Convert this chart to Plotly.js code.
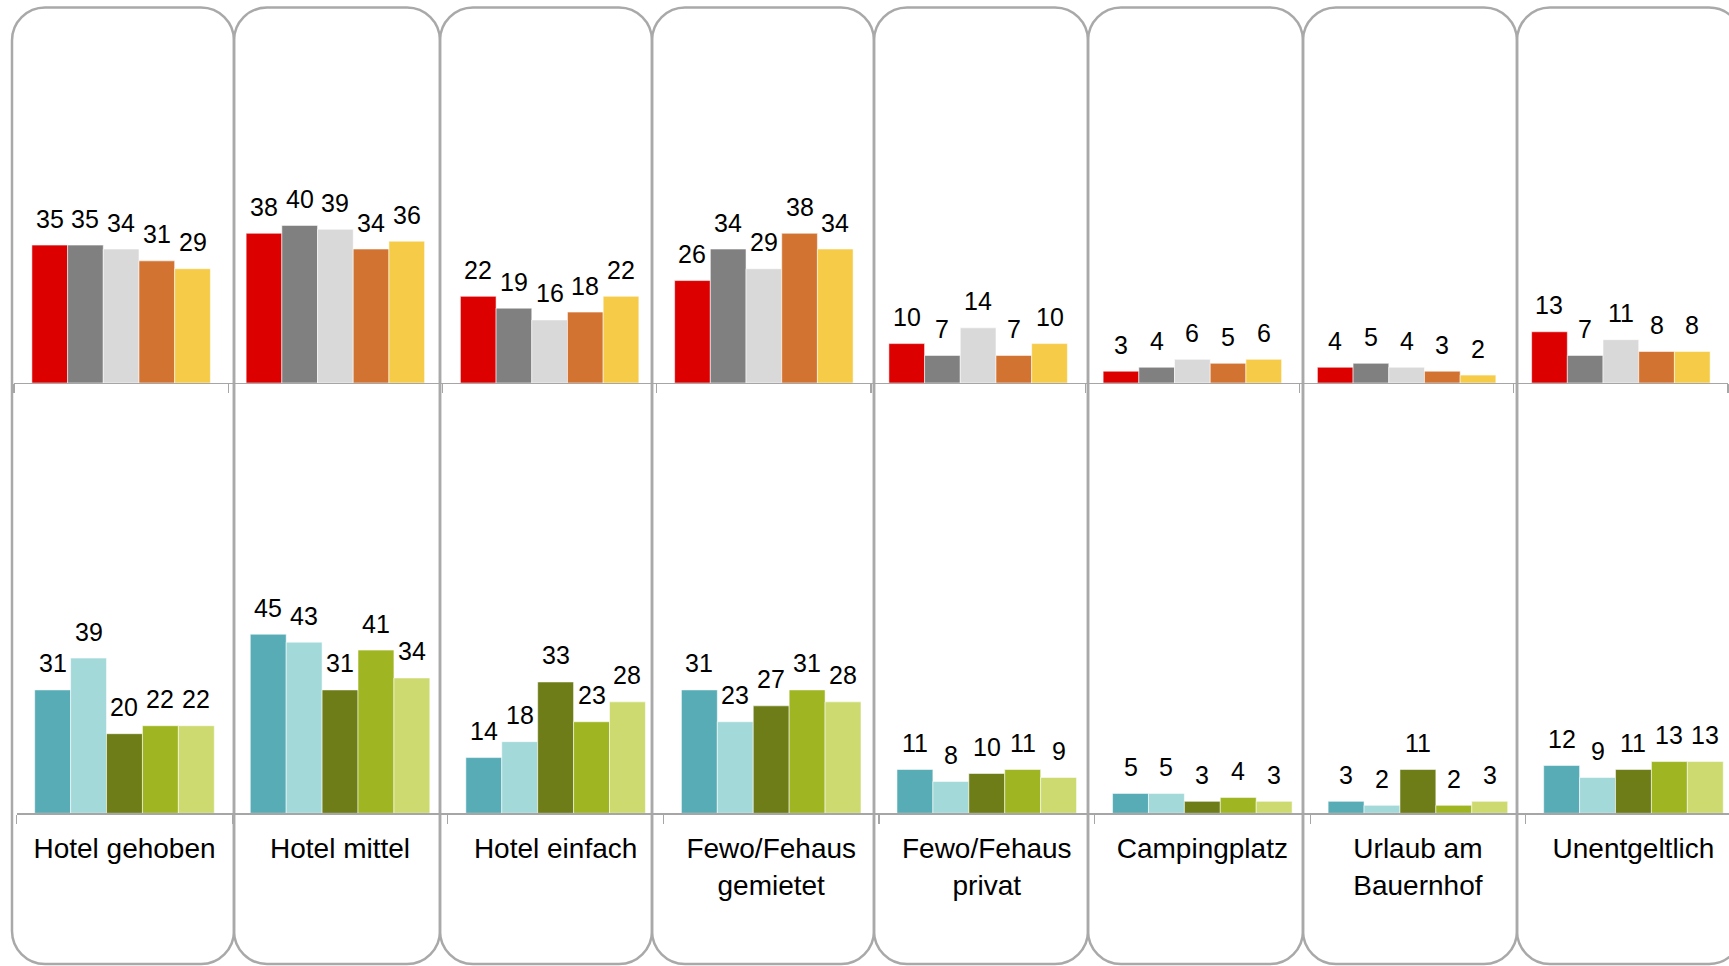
<!DOCTYPE html>
<html><head><meta charset="utf-8">
<script src="https://cdn.plot.ly/plotly-3.0.1.min.js"></script>
<style>html,body{margin:0;padding:0;background:#fff;overflow:hidden}</style>
</head><body><div id="chart" style="width:1729px;height:966px"></div>
<script>
// ---- data ----
const categories = ['Hotel gehoben','Hotel mittel','Hotel einfach','Fewo/Fehaus<br>gemietet','Fewo/Fehaus<br>privat','Campingplatz','Urlaub am<br>Bauernhof','Unentgeltlich'];

const topNames = ['Gruppe 1','Gruppe 2','Gruppe 3','Gruppe 4','Gruppe 5'];
const top1 = [35,38,22,26,10,3,4,13];
const top2 = [35,40,19,34,7,4,5,7];
const top3 = [34,39,16,29,14,6,4,11];
const top4 = [31,34,18,38,7,5,3,8];
const top5 = [29,36,22,34,10,6,2,8];
const topColors = ['#DC0000','#808080','#D9D9D9','#D37332','#F6CB47'];

const botNames = ['Gruppe 6','Gruppe 7','Gruppe 8','Gruppe 9','Gruppe 10'];
const bot1 = [31,45,14,31,11,5,3,12];
const bot2 = [39,43,18,23,8,5,2,9];
const bot3 = [20,31,33,27,10,3,11,11];
const bot4 = [22,41,23,31,11,4,2,13];
const bot5 = [22,34,28,28,9,3,3,13];
const botColors = ['#57ACB6','#A4D9DA','#6E7D18','#A0B522','#CDDA70'];

// ---- layout constants ----
const W = 1729, H = 966;
const FONT = 'Liberation Sans, Arial, sans-serif';
const GAP = 0.167;
const topSeries = [top1, top2, top3, top4, top5];
const botSeries = [bot1, bot2, bot3, bot4, bot5];

const traces = [];
topSeries.forEach((vals, i) => traces.push({
  type: 'bar', x: categories, y: vals, name: topNames[i], xaxis: 'x', yaxis: 'y',
  marker: {color: topColors[i], line: {width: 1, color: 'rgba(255,255,255,0.55)'}},
  hoverinfo: 'y'
}));
botSeries.forEach((vals, i) => traces.push({
  type: 'bar', x: categories, y: vals, name: botNames[i], xaxis: 'x2', yaxis: 'y2',
  marker: {color: botColors[i], line: {width: 1, color: 'rgba(255,255,255,0.55)'}},
  hoverinfo: 'y'
}));

// value labels above each bar
const annotations = [];
const w = (1 - GAP) / 5;
function addLabels(series, xr, yr) {
  series.forEach((vals, i) => vals.forEach((v, j) => annotations.push({
    x: j + (i - 2) * w, y: v, xref: xr, yref: yr, text: String(v),
    showarrow: false, xanchor: 'center', yanchor: 'bottom', yshift: 10.5,
    font: {family: FONT, size: 25, color: '#000'}
  })));
}
addLabels(topSeries, 'x', 'y');
addLabels(botSeries, 'x2', 'y2');

// rounded panels
const panelEdges = [12, 234, 440, 652, 874, 1088, 1303, 1517, 1742];
const pT = 7.5, pB = 964, r = 33, k = 0.5523;
const px = x => (x / W).toFixed(5);
const py = y => (1 - y / H).toFixed(5);
const shapes = [];
for (let p = 0; p < panelEdges.length - 1; p++) {
  const L = panelEdges[p], R = panelEdges[p + 1];
  const d = [
    `M${px(L)},${py(pT + r)}`,
    `C${px(L)},${py(pT + r - k * r)} ${px(L + r - k * r)},${py(pT)} ${px(L + r)},${py(pT)}`,
    `L${px(R - r)},${py(pT)}`,
    `C${px(R - r + k * r)},${py(pT)} ${px(R)},${py(pT + r - k * r)} ${px(R)},${py(pT + r)}`,
    `L${px(R)},${py(pB - r)}`,
    `C${px(R)},${py(pB - r + k * r)} ${px(R - r + k * r)},${py(pB)} ${px(R - r)},${py(pB)}`,
    `L${px(L + r)},${py(pB)}`,
    `C${px(L + r - k * r)},${py(pB)} ${px(L)},${py(pB - r + k * r)} ${px(L)},${py(pB - r)}`,
    'Z'
  ].join(' ');
  shapes.push({type: 'path', xref: 'paper', yref: 'paper', path: d, layer: 'below',
    line: {color: '#A9A9A9', width: 2.5}, fillcolor: 'rgba(0,0,0,0)'});
}

// axes geometry (pixels)
const topBase = 383, topScale = 3.94, topX0 = 14, topCat = 214.25;
const botBase = 813.3, botScale = 3.98, botX0 = 16.7, botCat = 215.57, botTop = 430;

const axisCommon = {
  type: 'category', showgrid: false, zeroline: false, showline: true,
  linecolor: '#A6A6A6', linewidth: 1.2, ticks: 'outside', tickson: 'boundaries',
  tickcolor: '#A6A6A6', tickwidth: 1.2, ticklen: 9, fixedrange: true
};

const layout = {
  width: W, height: H, margin: {l: 0, r: 0, t: 0, b: 0},
  paper_bgcolor: '#fff', plot_bgcolor: 'rgba(0,0,0,0)',
  showlegend: false, barmode: 'group', bargap: GAP, bargroupgap: 0,
  font: {family: FONT, color: '#000'},
  xaxis: Object.assign({}, axisCommon, {
    domain: [topX0 / W, (topX0 + 8 * topCat) / W], range: [-0.5, 7.5],
    anchor: 'y', showticklabels: false
  }),
  yaxis: {
    domain: [(H - topBase) / H, 1], range: [0, topBase / topScale],
    visible: false, fixedrange: true, anchor: 'x'
  },
  xaxis2: Object.assign({}, axisCommon, {
    domain: [botX0 / W, 1], range: [-0.5, -0.5 + (W - botX0) / botCat],
    anchor: 'y2', showticklabels: true, ticklabelstandoff: 10,
    tickfont: {family: FONT, size: 28, color: '#000'}
  }),
  yaxis2: {
    domain: [(H - botBase) / H, (H - botTop) / H], range: [0, (botBase - botTop) / botScale],
    visible: false, fixedrange: true, anchor: 'x2'
  },
  shapes: shapes,
  annotations: annotations
};

Plotly.newPlot('chart', traces, layout, {displayModeBar: false, staticPlot: true});
</script>
</body></html>
